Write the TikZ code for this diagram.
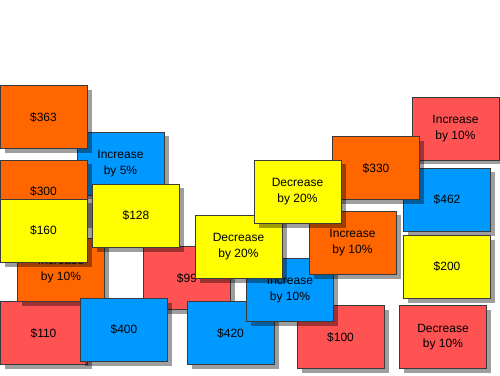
\documentclass[tikz,border=0pt]{standalone}
\usepackage{fontspec}
\setmainfont{Liberation Sans}
\usetikzlibrary{shadows}
\definecolor{cred}{HTML}{FF5252}
\definecolor{corange}{HTML}{FF6600}
\definecolor{cblue}{HTML}{0099FF}
\definecolor{cyellow}{HTML}{FFFF00}
\definecolor{cborder}{HTML}{3A3A3A}
\tikzset{
  card/.style={draw=cborder, line width=0.7pt, minimum width=87pt, minimum height=63pt,
    inner sep=0pt, align=center, font=\fontsize{12}{15.5}\selectfont,
    drop shadow={shadow xshift=4.5pt, shadow yshift=-4.5pt, opacity=0.38, fill=black}},
  redcard/.style={card, fill=cred},
  orangecard/.style={card, fill=corange},
  bluecard/.style={card, fill=cblue},
  yellowcard/.style={card, fill=cyellow}
}
\begin{document}
\begin{tikzpicture}[x=1pt,y=1pt]
\useasboundingbox (0,0) rectangle (500,375);
\node[redcard] (incTR) at (455.5,246.5) {Increase\\by 10\%};
\node[bluecard] (c462) at (447,175.5) {\$462};
\node[orangecard] (c330) at (376,207) {\$330};
\node[yellowcard] (c200) at (447,108.5) {\$200};
\node[redcard] (dec10) at (443,38) {Decrease\\by 10\%};
\node[redcard] (c100) at (340.5,38) {\$100};
\node[redcard] (c99) at (187,97) {\$99};
\node[bluecard] (c420) at (230.5,42) {\$420};
\node[bluecard] (inc5) at (120.5,211.5) {Increase\\by 5\%};
\node[orangecard] (c363) at (43.5,258) {\$363};
\node[orangecard] (c300) at (43.5,183.5) {\$300};
\node[redcard] (c110) at (43.5,42) {\$110};
\node[orangecard] (incL) at (61,105.5) {Increase\\by 10\%};
\node[bluecard] (c400) at (124,45.5) {\$400};
\node[yellowcard] (c160) at (43.5,144.5) {\$160};
\node[yellowcard] (c128) at (136,159.5) {\$128};
\node[bluecard] (incB) at (290,85.5) {Increase\\by 10\%};
\node[orangecard] (incM) at (352.5,132.5) {Increase\\by 10\%};
\node[yellowcard] (decL) at (238.5,128.5) {Decrease\\by 20\%};
\node[yellowcard] (decU) at (297.5,183.5) {Decrease\\by 20\%};
\end{tikzpicture}
\end{document}
